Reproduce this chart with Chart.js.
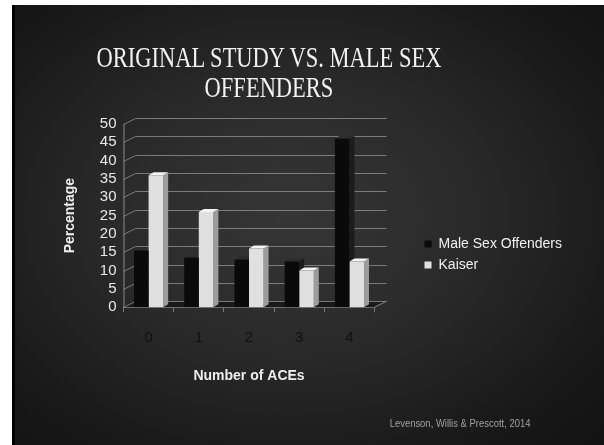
<!DOCTYPE html>
<html>
<head>
<meta charset="utf-8">
<script src="https://cdn.jsdelivr.net/npm/chart.js@4.4.0/dist/chart.umd.min.js"></script>
<style>
  html, body { margin: 0; padding: 0; background: #fff; }
  body { width: 604px; height: 445px; overflow: hidden; position: relative; }
  #slide {
    position: absolute; left: 12px; top: 5px; width: 592px; height: 440px;
    background: radial-gradient(ellipse 75% 75% at 47% 48%, #363636 0%, #2a2a2a 40%, #181818 80%, #121212 100%);
    box-shadow: inset 3px 0 0 #000;
  }
  #title {
    position: absolute; left: 0; top: 37px; width: 514px;
    font: 30px/30px "Liberation Serif", serif; color: #f2f2f2;
    text-align: center; transform: scaleX(0.75); transform-origin: 50% 0;
  }
  #source {
    position: absolute; right: 74px; top: 412px;
    font: 10.5px/13px "Liberation Sans Narrow", "Liberation Sans", sans-serif; color: #a0a0a0;
    transform: scaleX(0.9); transform-origin: 100% 0;
  }
  #chart { position: absolute; left: 0; top: 0; }
</style>
</head>
<body>
<div id="slide">
  <canvas id="chart" width="592" height="440"></canvas>
  <div id="title">ORIGINAL STUDY VS. MALE SEX<br>OFFENDERS</div>
  <div id="source">Levenson, Willis &amp; Prescott, 2014</div>
</div>
<script>
// number of adverse childhood experiences
const aceLabels = ['0', '1', '2', '3', '4'];
// percent of each group
const sexOffenders = [15.5, 13.5, 13, 12.5, 46];
const kaiser = [36, 26, 16, 10, 12.5];
// percentage axis
const percentMax = 50;
const percentStep = 5;

// fake 3D: offsets for bar tops/sides and for the back wall
const barDepth = [5, 3];
const wallDepth = [12, 6];

function poly(ctx, pts, fill) {
    ctx.beginPath();
    ctx.moveTo(pts[0][0], pts[0][1]);
    pts.slice(1).forEach(p => ctx.lineTo(p[0], p[1]));
    ctx.closePath();
    ctx.fillStyle = fill;
    ctx.fill();
}

const depthPlugin = {
    id: 'depth',
    beforeDatasetsDraw(chart) {
        const ctx = chart.ctx;
        const a = chart.chartArea;
        const y = chart.scales.y;
        const [wx, wy] = wallDepth;
        ctx.save();

        // floor
        poly(ctx, [[a.left, a.bottom], [a.right, a.bottom], [a.right + wx, a.bottom - wy], [a.left + wx, a.bottom - wy]], '#1a1a1a');

        // back wall grid lines
        ctx.strokeStyle = 'rgba(150,150,150,0.75)';
        ctx.lineWidth = 1;
        y.ticks.forEach(t => {
            const py = Math.round(y.getPixelForValue(t.value)) + 0.5;
            ctx.beginPath();
            ctx.moveTo(a.left, py);
            ctx.lineTo(a.left + wx, py - wy);
            ctx.lineTo(a.right + wx, py - wy);
            ctx.stroke();
        });

        // front vertical axis and right floor edge
        ctx.strokeStyle = '#8a8a8a';
        ctx.beginPath();
        ctx.moveTo(a.left + 0.5, a.top);
        ctx.lineTo(a.left + 0.5, a.bottom);
        ctx.moveTo(a.right, a.bottom);
        ctx.lineTo(a.right + wx, a.bottom - wy);
        ctx.stroke();

        // bar sides and tops
        const [bx, by] = barDepth;
        chart.data.datasets.forEach((ds, i) => {
            chart.getDatasetMeta(i).data.forEach(bar => {
                const p = bar.getProps(['x', 'y', 'base', 'width'], true);
                const l = p.x - p.width / 2, r = p.x + p.width / 2;
                poly(ctx, [[r, p.y], [r + bx, p.y - by], [r + bx, p.base - by], [r, p.base]], ds.sideColor);
                poly(ctx, [[l, p.y], [l + bx, p.y - by], [r + bx, p.y - by], [r, p.y]], ds.topColor);
            });
        });
        ctx.restore();
    }
};

new Chart(document.getElementById('chart'), {
    type: 'bar',
    data: {
        labels: aceLabels,
        datasets: [{
            label: 'Male Sex Offenders',
            data: sexOffenders,
            backgroundColor: '#0a0a0a',
            sideColor: '#1c1c1c',
            topColor: '#2c2c2c',
            borderWidth: 0
        }, {
            label: 'Kaiser',
            data: kaiser,
            backgroundColor: '#e0e0e0',
            sideColor: '#9c9c9c',
            topColor: '#f4f4f4',
            borderWidth: 0
        }]
    },
    options: {
        responsive: false,
        devicePixelRatio: 1,
        animation: false,
        categoryPercentage: 0.58,
        barPercentage: 1,
        layout: { padding: { top: 119, bottom: 60, left: 50, right: 32 } },
        scales: {
            x: {
                grid: { display: true, drawOnChartArea: false, tickLength: 5, color: '#7a7a7a', offset: true },
                border: { color: '#8a8a8a' },
                ticks: { color: '#101010', font: { family: 'Liberation Sans', size: 15 }, padding: 17 },
                title: {
                    display: true, text: 'Number of ACEs', color: '#eeeeee',
                    font: { family: 'Liberation Sans', size: 14, weight: 'bold' },
                    padding: { top: 4, bottom: 0 }
                }
            },
            y: {
                min: 0,
                max: percentMax,
                grid: { display: false, drawTicks: false },
                border: { display: false },
                ticks: {
                    stepSize: percentStep, autoSkip: false, color: '#e8e8e8',
                    font: { family: 'Liberation Sans', size: 15 }, padding: 7
                },
                title: {
                    display: true, text: 'Percentage', color: '#eeeeee',
                    font: { family: 'Liberation Sans', size: 14, weight: 'bold' },
                    padding: { top: 0, bottom: 14 }
                }
            },
            // empty gap between the plot and the legend
            spacer: {
                type: 'linear',
                position: 'right',
                grid: { display: false, drawTicks: false },
                border: { display: false },
                ticks: { display: false },
                afterFit(s) { s.width = 43; }
            }
        },
        plugins: {
            legend: {
                position: 'right',
                maxWidth: 200,
                labels: {
                    color: '#f0f0f0',
                    font: { family: 'Liberation Sans', size: 14 },
                    boxWidth: 7,
                    boxHeight: 7,
                    padding: 7
                }
            },
            tooltip: { enabled: false }
        }
    },
    plugins: [depthPlugin]
});
</script>
</body>
</html>
